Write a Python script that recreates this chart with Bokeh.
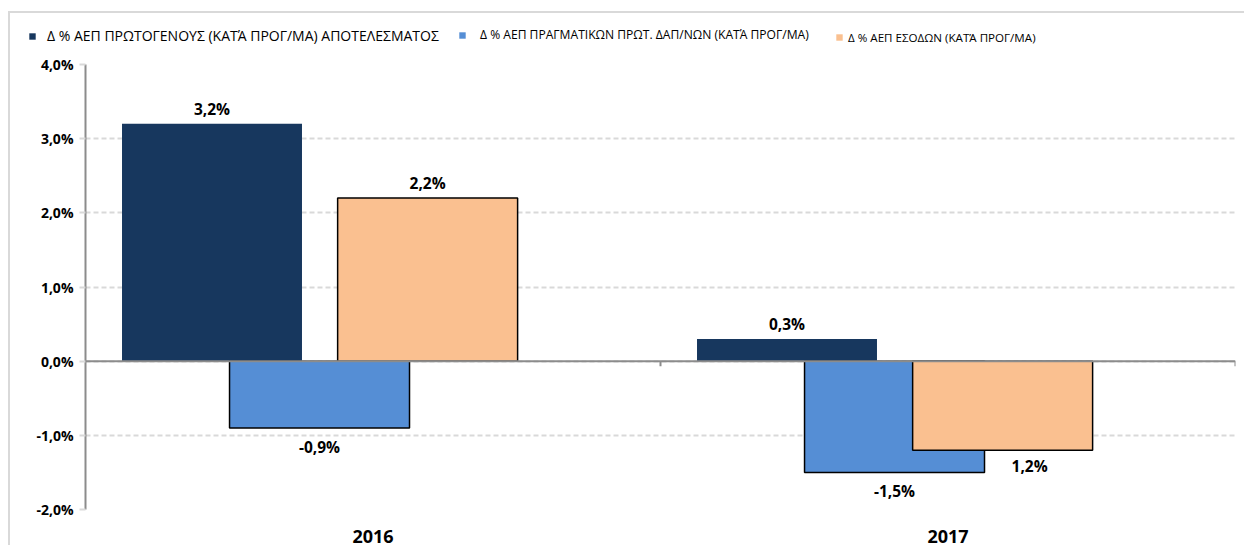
from bokeh.plotting import figure
from bokeh.layouts import column
from bokeh.models import (ColumnDataSource, FixedTicker, Span, Legend, LegendItem,
                          Range1d)
from bokeh.transform import dodge
from bokeh.core.properties import value
from bokeh.embed import file_html
from bokeh.resources import INLINE

# ---------------- data ----------------
years = ["2016", "2017"]
primary_balance = [3.2, 0.3]
primary_spending = [-0.9, -1.5]
revenue = [2.2, -1.2]
primary_labels = ["3,2%", "0,3%"]
spending_labels = ["-0,9%", "-1,5%"]
revenue_labels = ["2,2%", "1,2%"]
series_names = [
    "Δ % ΑΕΠ ΠΡΩΤΟΓΕΝΟΥΣ (ΚΑΤΆ ΠΡΟΓ/ΜΑ) ΑΠΟΤΕΛΕΣΜΑΤΟΣ",
    "Δ % ΑΕΠ ΠΡΑΓΜΑΤΙΚΩΝ ΠΡΩΤ. ΔΑΠ/ΝΩΝ (ΚΑΤΆ ΠΡΟΓ/ΜΑ)",
    "Δ % ΑΕΠ ΕΣΟΔΩΝ (ΚΑΤΆ ΠΡΟΓ/ΜΑ)",
]
y_ticks = [-2, -1, 0, 1, 2, 3, 4]
y_tick_labels = ["-2,0%", "-1,0%", "0,0%", "1,0%", "2,0%", "3,0%", "4,0%"]

# ---------------- sources ----------------
xc = [i + 0.5 for i in range(len(years))]
src = ColumnDataSource(dict(
    x=xc, year=years,
    p=primary_balance, s=primary_spending, r=revenue,
    pl=primary_labels, sl=spending_labels, rl=revenue_labels,
))

C_DARK = "#17375e"
C_BLUE = "#558ed5"
C_ORANGE = "#fac090"
FONT = "Open Sans"
colors = [C_DARK, C_BLUE, C_ORANGE]

# ---------------- legend strip ----------------
lf = figure(width=1234, height=40, output_backend="svg", toolbar_location=None,
            x_axis_type=None, y_axis_type=None,
            x_range=Range1d(0, 1), y_range=Range1d(0, 1),
            min_border_left=0, min_border_right=0, min_border_top=0,
            min_border_bottom=0)
lf.outline_line_color = None
lf.grid.grid_line_color = None
if "frame_align" in lf.properties():
    lf.frame_align = False
    frame_left = 10
else:
    frame_left = 85
glyph_page_x = [33, 463, 840]
leg_x = [gx - frame_left - 5 for gx in glyph_page_x]
leg_y = [8, 10, 8]
leg_fs = ["14px", "12.1px", "11.6px"]
leg_standoff = [11, 14, 5]
for name, c, lx, ly, fs, so in zip(series_names, colors, leg_x, leg_y, leg_fs, leg_standoff):
    # a hidden sample bar (outside the visible range) only provides the legend swatch
    rr = lf.vbar(x=[-10], top=[-10], bottom=[-11], width=0.1, fill_color=c, line_color=None)
    lg = Legend(items=[LegendItem(label=name, renderers=[rr])], location=(lx, ly),
                glyph_width=8, glyph_height=8, label_standoff=so,
                padding=5, margin=0, label_height=16,
                label_text_font=FONT, label_text_font_size=fs,
                label_text_color="black", background_fill_alpha=0,
                border_line_color=None)
    lf.add_layout(lg, "center")

# ---------------- main chart ----------------
p = figure(width=1234, height=492, output_backend="svg", toolbar_location=None,
           x_range=Range1d(0, len(years)), y_range=Range1d(-2, 4),
           min_border_left=75, min_border_right=9, min_border_top=11,
           min_border_bottom=31)
p.outline_line_color = None

W = 0.313
OFF = [-0.28, -0.093, 0.095]

p.vbar(x=dodge("x", OFF[0], range=p.x_range), top="p", bottom=0, width=W,
       source=src, fill_color=C_DARK, line_color=None)
p.vbar(x=dodge("x", OFF[1], range=p.x_range), top="s", bottom=0, width=W,
       source=src, fill_color=C_BLUE, line_color="black", line_width=1.5)
p.vbar(x=dodge("x", OFF[2], range=p.x_range), top="r", bottom=0, width=W,
       source=src, fill_color=C_ORANGE, line_color="black", line_width=1.5)

# data labels
lbl = dict(text_font=value(FONT), text_font_style="bold", text_font_size="15.5px",
           text_color="black", text_align="center")
p.text(x=dodge("x", OFF[0], range=p.x_range), y="p", text="pl", source=src,
       text_baseline="bottom", y_offset=-4, **lbl)
p.text(x=dodge("x", OFF[1], range=p.x_range), y="s", text="sl", source=src,
       text_baseline="top", y_offset=8, **lbl)
pos = [i for i in range(len(years)) if revenue[i] >= 0]
neg = [i for i in range(len(years)) if revenue[i] < 0]
lsrc_pos = ColumnDataSource(dict(x=[xc[i] for i in pos], y=[revenue[i] for i in pos],
                                 t=[revenue_labels[i] for i in pos]))
lsrc_neg = ColumnDataSource(dict(x=[xc[i] for i in neg], y=[revenue[i] for i in neg],
                                 t=[revenue_labels[i] for i in neg]))
p.text(x=dodge("x", OFF[2], range=p.x_range), y="y", text="t", source=lsrc_pos,
       text_baseline="bottom", y_offset=-4, **lbl)
p.text(x=dodge("x", OFF[2], range=p.x_range), y="y", text="t", source=lsrc_neg,
       text_baseline="top", y_offset=5, x_offset=27, **lbl)

# zero line with category-boundary ticks
p.add_layout(Span(location=0, dimension="width", line_color="#8c8c8c", line_width=2))
bounds = [float(i + 1) for i in range(len(years))]
p.segment(x0=bounds, x1=bounds, y0=[0] * len(bounds), y1=[-0.07] * len(bounds),
          line_color="#8c8c8c", line_width=2)

# axes
p.yaxis.ticker = FixedTicker(ticks=y_ticks)
p.yaxis.major_label_overrides = {t: l for t, l in zip(y_ticks, y_tick_labels)}
p.yaxis.axis_line_color = "#8c8c8c"
p.yaxis.axis_line_width = 2
p.yaxis.major_tick_line_color = "#d9d9d9"
p.yaxis.major_tick_line_width = 2
p.yaxis.major_tick_in = 0
p.yaxis.major_tick_out = 6
p.yaxis.minor_tick_line_color = None
p.yaxis.major_label_text_font = FONT
p.yaxis.major_label_text_font_style = "bold"
p.yaxis.major_label_text_font_size = "14px"
p.yaxis.major_label_text_color = "black"
p.yaxis.major_label_standoff = 6

p.xaxis.ticker = FixedTicker(ticks=xc)
p.xaxis.major_label_overrides = {x: y for x, y in zip(xc, years)}
p.xaxis.axis_line_color = None
p.xaxis.major_tick_line_color = None
p.xaxis.minor_tick_line_color = None
p.xaxis.major_label_text_font = FONT
p.xaxis.major_label_text_font_style = "bold"
p.xaxis.major_label_text_font_size = "18px"
p.xaxis.major_label_text_color = "black"
p.xaxis.major_label_standoff = 14

p.xgrid.grid_line_color = None
p.ygrid.grid_line_color = "#d9d9d9"
p.ygrid.grid_line_width = 2
p.ygrid.grid_line_dash = "5 3"

layout = column(lf, p, spacing=0)
layout.styles = {"border-top": "2px solid #d9d9d9", "border-left": "2px solid #d9d9d9",
                 "margin-top": "11px", "margin-left": "8px"}

open("out.html", "w").write(file_html(layout, INLINE))
